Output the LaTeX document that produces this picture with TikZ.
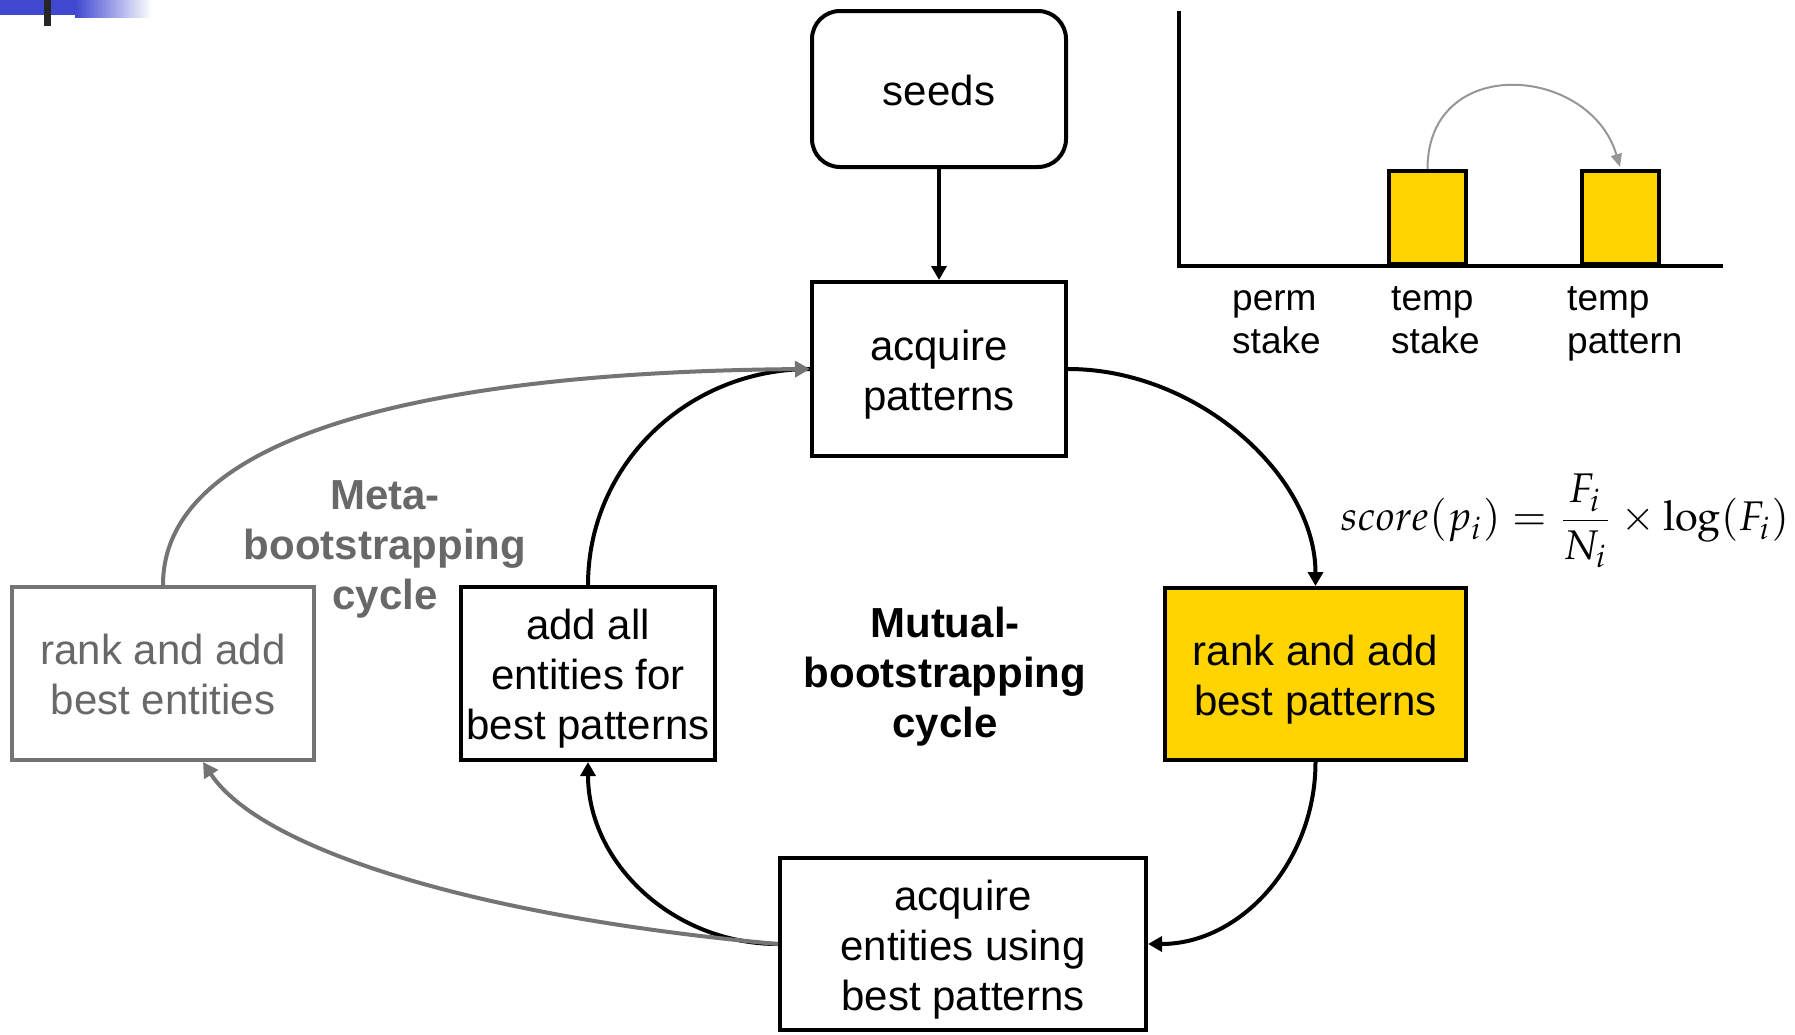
\documentclass[tikz,border=0pt]{standalone}
\usepackage{mathpazo}
\usepackage[no-math]{fontspec}
\setmainfont{Liberation Sans}
\usepackage{graphicx}
\usetikzlibrary{arrows.meta}
\definecolor{gold}{RGB}{255,212,0}
\definecolor{lgray}{RGB}{116,116,116}
\definecolor{tgray}{RGB}{104,104,104}
\definecolor{barblue}{RGB}{64,72,208}
\definecolor{arcgray}{RGB}{150,150,150}
\newcommand{\tstr}{\vrule height 41pt depth 9pt width 0pt}
\begin{document}
\begin{tikzpicture}[x=1pt,y=1pt,
  procbox/.style={draw=black, line width=4pt, inner sep=0pt, align=center,
    font=\fontsize{42}{50}\selectfont},
  graybox/.style={procbox, draw=lgray, text=tgray},
  bigtext/.style={inner sep=0pt, align=center, font=\fontsize{42}{50}\selectfont\bfseries},
  chartlabel/.style={anchor=west, inner sep=0pt, align=left, font=\fontsize{37}{43}\selectfont},
  barbox/.style={draw=black, line width=4pt, fill=gold, inner sep=0pt,
    minimum width=77pt, minimum height=93pt},
  arr/.style={line width=4pt, -{Triangle[length=14pt,width=15pt]}},
  garr/.style={line width=4pt, draw=lgray, -{Triangle[length=15pt,width=16pt]}},
  plainline/.style={line width=4pt}
]
\useasboundingbox (0,0) rectangle (1795,-1034);
\fill[white] (0,0) rectangle (1795,-1034);

% top-left decoration
\fill[barblue] (0,0) rectangle (75,-15);
\shade[left color=barblue, right color=white] (75,0) rectangle (152,-17);
\fill[black!85] (44,0) rectangle (51,-26);

% boxes
\node[procbox, rounded corners=28pt, minimum width=254pt, minimum height=156pt] (seeds) at (939,-89) {\tstr seeds};
\node[procbox, minimum width=254pt, minimum height=174pt] (ap) at (939,-369) {\tstr acquire\\\tstr patterns};
\node[procbox, fill=gold, minimum width=301pt, minimum height=172pt] (rp) at (1315.5,-674) {\tstr rank and add\\\tstr best patterns};
\node[procbox, minimum width=254pt, minimum height=173pt] (aae) at (588,-673.5) {\tstr add all\\\tstr entities for\\\tstr best patterns};
\node[graybox, minimum width=302pt, minimum height=173pt] (re) at (163,-673.5) {\tstr rank and add\\\tstr best entities};
\node[procbox, minimum width=366pt, minimum height=172pt] (ae) at (963,-944) {\tstr acquire\\\tstr entities using\\\tstr best patterns};

% cycle labels
\node[bigtext] (mutual) at (945,-677.5) {\strut Mutual-\\\strut bootstrapping\\\strut cycle};
\node[bigtext, text=tgray] (meta) at (385,-549.5) {\strut Meta-\\\strut bootstrapping\\\strut cycle};

% formula
\node[inner sep=0pt] (score) at (1565,-521) {\resizebox{448pt}{!}{$\displaystyle score(p_i)=\frac{F_i}{N_i}\times\log(F_i)$}};

% chart
\node[barbox] (tstake) at (1427.5,-217.5) {};
\node[barbox] (tpat) at (1620,-217.5) {};
\draw[line width=4pt, line join=miter] (1179,-11) -- (1179,-266) -- (1723,-266);
\draw[line width=2pt, arcgray, -{Triangle[length=13pt,width=11pt]}]
  (tstake.north) .. controls +(0,116) and +(-30,102) .. ([yshift=2pt]tpat.north);
\node[chartlabel] (lperm) at (1232,-323.5) {\strut perm\\\strut stake};
\node[chartlabel] (ltstake) at (1391,-323.5) {\strut temp\\\strut stake};
\node[chartlabel] (ltpat) at (1567,-323.5) {\strut temp\\\strut pattern};

% mutual cycle connectors
\draw[arr] (seeds.south) -- (ap.north);
\draw[arr] (ap.east) .. controls +(130,0) and +(0,110) .. (rp.north);
\draw[arr] (rp.south) .. controls +(0,-100) and +(93,0) .. (ae.east);
\draw[arr] (ae.west) .. controls +(-105,0) and +(0,-101) .. (aae.south);
\draw[plainline] (aae.north) .. controls +(0,120) and +(-123,0) .. (ap.west);

% meta cycle connectors
\draw[garr] (re.north) .. controls +(0,147) and +(-392,-3) .. (ap.west);
\draw[garr] (ae.west) .. controls +(-302,27) and +(57,-87) .. ([xshift=40pt]re.south);
\end{tikzpicture}
\end{document}
